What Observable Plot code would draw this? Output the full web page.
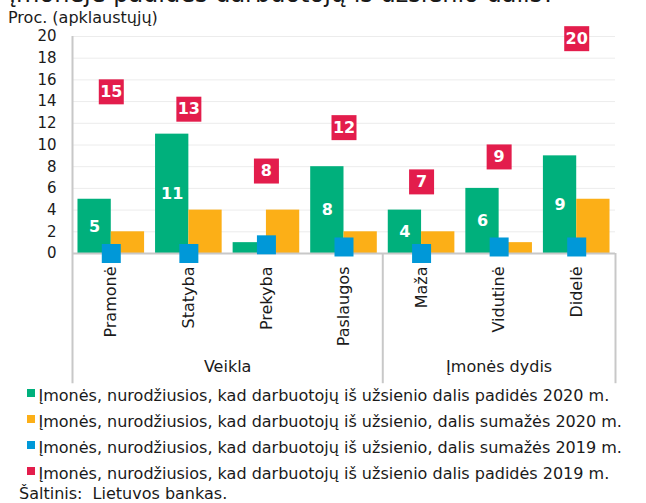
<!DOCTYPE html>
<html><head><meta charset="utf-8">
<script src="https://cdn.jsdelivr.net/npm/d3@7"></script>
<script src="https://cdn.jsdelivr.net/npm/@observablehq/plot@0.6"></script>
<style>
body{margin:0;width:646px;height:503px;overflow:hidden;position:relative;background:#fff;font-family:"DejaVu Sans",sans-serif;color:#1a1a1a}
.abs{position:absolute;white-space:nowrap}
#title{left:9px;top:-20.5px;font-size:24px;line-height:28px}
#unit{left:8px;top:7.8px;font-size:16px;line-height:20px}
#chart{left:0;top:0}
.row{position:absolute;left:27px;font-size:16px;line-height:20px;white-space:nowrap}
.sw{position:absolute;left:0;top:3.2px;width:8px;height:8px}
.tx{position:absolute;left:11.5px;top:0}
#source{left:19px;top:483.5px;font-size:16px;line-height:20px}
</style></head><body>
<div id="title" class="abs">Įmonėje padidės darbuotojų iš užsienio dalis?</div>
<div id="unit" class="abs">Proc. (apklaustųjų)</div>
<div id="chart" class="abs"></div>
<div id="legend"></div>
<div id="source" class="abs">Šaltinis:&nbsp; Lietuvos bankas.</div>
<script>
const categories = ["Pramonė", "Statyba", "Prekyba", "Paslaugos", "Maža", "Vidutinė", "Didelė"];
const groupOf = ["Veikla", "Veikla", "Veikla", "Veikla", "Įmonės dydis", "Įmonės dydis", "Įmonės dydis"];
const up2020 = [5, 11, 1, 8, 4, 6, 9];
const down2020 = [2, 4, 4, 2, 2, 1, 5];
const down2019 = [0, 0, 0.8, 0.6, 0, 0.6, 0.6];
const up2019 = [14.9, 13.3, 7.6, 11.6, 6.6, 8.9, 19.8];
const yTicks = [0, 2, 4, 6, 8, 10, 12, 14, 16, 18, 20];
const seriesNames = [
  "Įmonės, nurodžiusios, kad darbuotojų iš užsienio dalis padidės 2020 m.",
  "Įmonės, nurodžiusios, kad darbuotojų iš užsienio, dalis sumažės 2020 m.",
  "Įmonės, nurodžiusios, kad darbuotojų iš užsienio, dalis sumažės 2019 m.",
  "Įmonės, nurodžiusios, kad darbuotojų iš užsienio dalis padidės 2019 m."
];
const seriesColors = ["#00b07c", "#fcaf17", "#0098d8", "#e31d4c"];

const W = 646, H = 385, mL = 72, mR = 31, mT = 36, mB = 132;
const bw = (W - mL - mR) / categories.length;
const barW = 33.3;
const data = categories.map((c, i) => ({cat: c, group: groupOf[i], g: up2020[i], o: down2020[i], b: down2019[i], r: up2019[i]}));

const groupNames = [...new Set(groupOf)];
const groupMarks = groupNames.map(gn => {
  const idx = groupOf.map((g, i) => g === gn ? i : -1).filter(i => i >= 0);
  const mid = (idx[0] + idx[idx.length - 1]) / 2;
  const base = Math.floor(mid);
  return Plot.text([{cat: categories[base], label: gn}], {x: "cat", text: "label", dx: (mid - base) * bw, frameAnchor: "bottom", lineAnchor: "middle", dy: 113, fontSize: 16, fill: "#1a1a1a"});
});
const boundStarts = categories.filter((c, i) => i === 0 || groupOf[i] !== groupOf[i - 1]);
const axisGray = "#c8c8c8";

const chart = Plot.plot({
  width: W, height: H, marginLeft: mL, marginRight: mR, marginTop: mT, marginBottom: mB,
  style: {fontFamily: "DejaVu Sans", fontSize: "16px", color: "#1a1a1a", background: "transparent"},
  x: {type: "band", domain: categories, padding: 0, round: false},
  y: {domain: [0, 20]},
  marks: [
    Plot.gridY(yTicks.filter(t => t > 0), {stroke: "#ececec", strokeOpacity: 1}),
    Plot.barY(data, {x: "cat", y: "g", fill: seriesColors[0], insetLeft: bw / 2 - barW, insetRight: bw / 2}),
    Plot.barY(data, {x: "cat", y: "o", fill: seriesColors[1], insetLeft: bw / 2, insetRight: bw / 2 - barW}),
    Plot.ruleY([0], {stroke: axisGray, strokeWidth: 2}),
    Plot.ruleX(boundStarts.slice(0, 1), {x: d => d, dx: -bw / 2, y1: 20, y2: -12, stroke: axisGray, strokeWidth: 2}),
    Plot.ruleX(boundStarts.slice(1), {x: d => d, dx: -bw / 2, y1: 0, y2: -12, stroke: axisGray, strokeWidth: 2}),
    Plot.ruleX(categories.slice(-1), {x: d => d, dx: bw / 2, y1: 0, y2: -12, stroke: axisGray, strokeWidth: 2}),
    Plot.dot(data, {x: "cat", y: "b", symbol: "square", r: 19 / Math.sqrt(Math.PI), fill: seriesColors[2], stroke: "none"}),
    Plot.dot(data, {x: "cat", y: "r", symbol: "square", r: 25 / Math.sqrt(Math.PI), fill: seriesColors[3], stroke: "none"}),
    Plot.text(data, {x: "cat", y: "r", text: d => d3.format(".0f")(d.r), fill: "white", fontWeight: "bold", fontSize: 16}),
    Plot.text(data.filter(d => d.g >= 2), {x: "cat", y: d => d.g / 2, text: d => String(d.g), dx: -barW / 2, fill: "white", fontWeight: "bold", fontSize: 16}),
    Plot.axisY({ticks: yTicks, tickSize: 0, tickPadding: 16, fontSize: 15, label: null}),
    Plot.axisX({tickRotate: -90, tickSize: 0, tickPadding: 13, fontSize: 16, label: null}),
    ...groupMarks
  ]
});
document.getElementById("chart").appendChild(chart);

const legend = document.getElementById("legend");
const rowTops = [385.5, 411.5, 437.5, 463.5];
seriesNames.forEach((name, i) => {
  const row = document.createElement("div");
  row.className = "row";
  row.style.top = rowTops[i] + "px";
  row.innerHTML = `<span class="sw" style="background:${seriesColors[i]}"></span><span class="tx"></span>`;
  row.querySelector(".tx").textContent = name;
  legend.appendChild(row);
});
</script>
</body></html>
